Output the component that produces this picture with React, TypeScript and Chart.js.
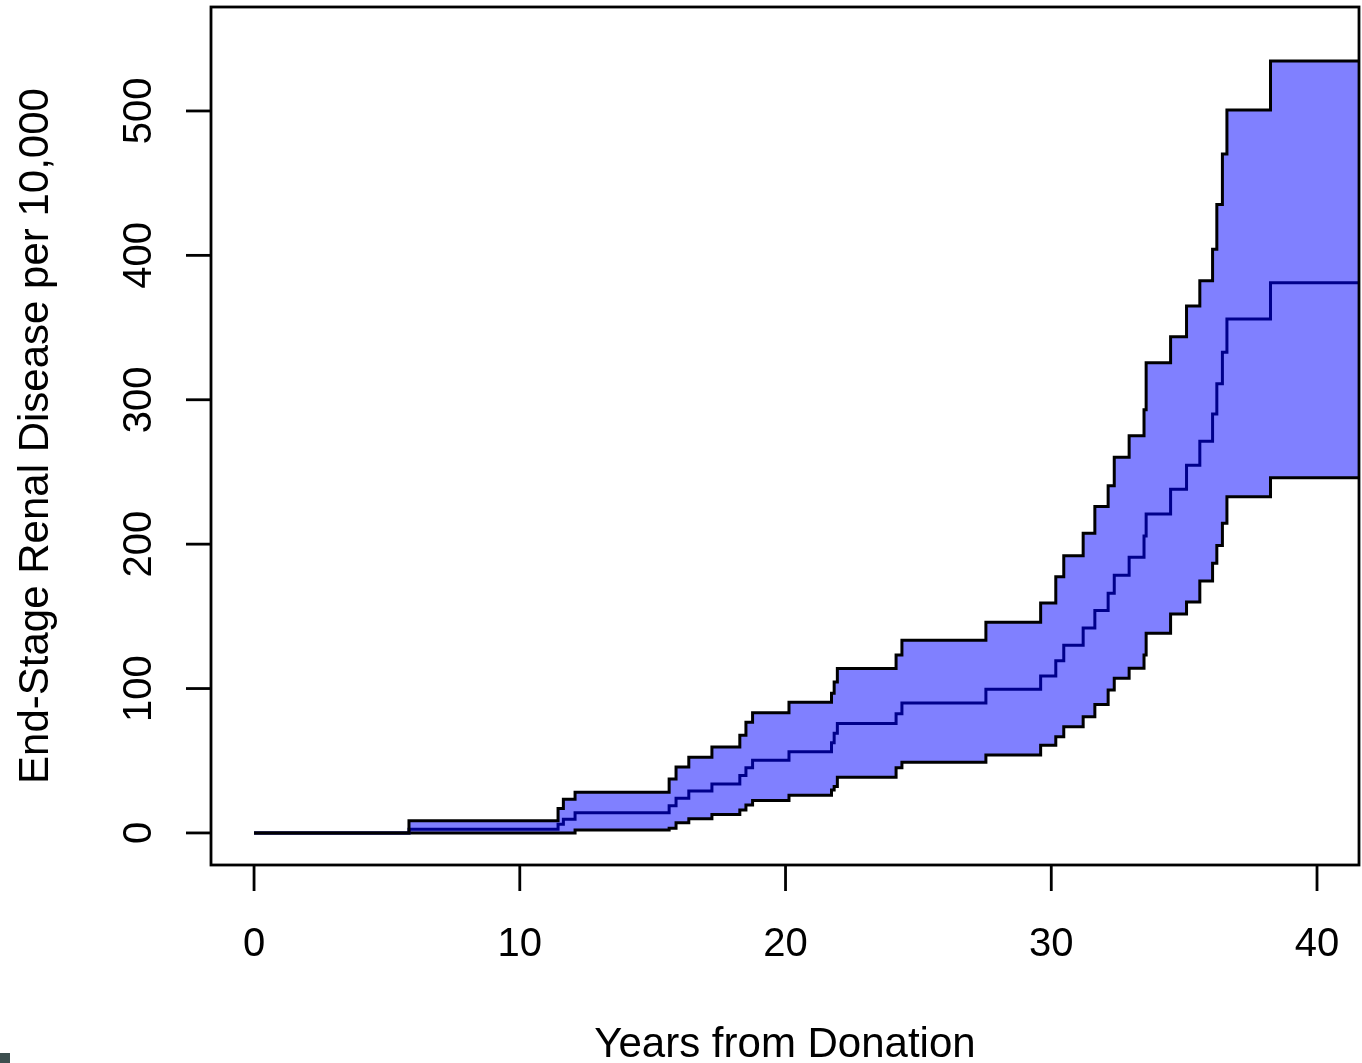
import { useEffect, useRef } from "react";
import { Chart, registerables } from "chart.js";

Chart.register(...registerables);

// Step-change times (years from donation)
const years = [0, 5.83, 11.44, 11.64, 12.08, 15.62, 15.88, 16.36, 17.23, 18.28, 18.51, 18.76, 20.13, 21.73, 21.83, 21.95, 24.16, 24.38, 27.54, 29.6, 30.17, 30.47, 31.2, 31.64, 32.14, 32.37, 32.93, 33.49, 33.57, 34.49, 35.09, 35.59, 36.07, 36.23, 36.44, 36.61, 38.25, 41.58];

// Upper confidence bound
const upperCI = [0, 8.5, 17, 23.3, 28.2, 37.4, 45.6, 52.4, 59.6, 67.6, 76.7, 83.3, 90.5, 96.7, 104.5, 113.8, 123.3, 133.4, 146, 159.3, 177.5, 192, 207.5, 226, 240.5, 260.2, 275, 293, 325.7, 343.7, 365, 382.5, 404.2, 435.3, 470.2, 500.7, 534.6, 534.6];

// Point estimate
const estimate = [0, 2.6, 6, 9.5, 14, 18.9, 24, 29, 33.9, 39.7, 45.2, 50.3, 56.3, 62.5, 69, 75.8, 82.6, 90, 99.5, 108.7, 119.3, 130, 142, 154, 166, 178.4, 190.9, 205.7, 220.9, 238, 254.6, 271.2, 290.2, 311, 332.9, 355.9, 381.1, 381.1];

// Lower confidence bound
const lowerCI = [0, 0, 0, 0, 2.1, 3.2, 7, 9.8, 12.7, 15.9, 19.4, 22.4, 26.1, 29.8, 32.1, 38.5, 45.2, 49, 54, 60.7, 66.7, 73.6, 80.5, 89, 99, 107.1, 114, 123.3, 138.3, 151.7, 160, 174.5, 186.8, 199, 214.5, 232.9, 246, 246];

const xTicks = [0, 10, 20, 30, 40];
const yTicks = [0, 100, 200, 300, 400, 500];
const xTitle = "Years from Donation";
const yTitle = "End-Stage Renal Disease per 10,000";

const FONT = '"Liberation Sans", Arial, Helvetica, sans-serif';

const toPoints = (ys: number[]) => years.map((x, i) => ({ x, y: ys[i] }));

const rAxesPlugin = {
  id: "rAxes",
  afterDraw(chart: any) {
    const ctx = chart.ctx as CanvasRenderingContext2D;
    const a = chart.chartArea;
    const xs = chart.scales.x;
    const ys = chart.scales.y;
    ctx.save();
    ctx.strokeStyle = "#000";
    ctx.fillStyle = "#000";
    ctx.lineWidth = 2.8;
    ctx.lineCap = "butt";
    // box
    ctx.strokeRect(a.left, a.top, a.right - a.left, a.bottom - a.top);
    // x ticks
    ctx.font = `40px ${FONT}`;
    ctx.textAlign = "center";
    ctx.textBaseline = "alphabetic";
    for (const t of xTicks) {
      const px = xs.getPixelForValue(t);
      ctx.beginPath();
      ctx.moveTo(px, a.bottom);
      ctx.lineTo(px, a.bottom + 26);
      ctx.stroke();
      ctx.fillText(String(t), px, a.bottom + 91);
    }
    // y ticks
    for (const t of yTicks) {
      const py = ys.getPixelForValue(t);
      ctx.beginPath();
      ctx.moveTo(a.left, py);
      ctx.lineTo(a.left - 25, py);
      ctx.stroke();
      ctx.save();
      ctx.translate(a.left - 60, py);
      ctx.rotate(-Math.PI / 2);
      ctx.fillText(String(t), 0, 0);
      ctx.restore();
    }
    // titles
    ctx.font = `42px ${FONT}`;
    ctx.fillText(xTitle, (a.left + a.right) / 2, 1057);
    ctx.save();
    ctx.translate(48, (a.top + a.bottom) / 2);
    ctx.rotate(-Math.PI / 2);
    ctx.fillText(yTitle, 0, 0);
    ctx.restore();
    // small corner mark
    ctx.fillStyle = "#3d4f4f";
    ctx.fillRect(0, 1053, 10, 10);
    ctx.restore();
  },
};

export default function App() {
  const ref = useRef<HTMLCanvasElement | null>(null);
  useEffect(() => {
    if (!ref.current) return;
    const chart = new Chart(ref.current, {
      type: "line",
      data: {
        datasets: [
          {
            data: toPoints(upperCI),
            borderColor: "#000000",
            borderWidth: 3,
            backgroundColor: "rgb(128,128,255)",
            fill: 2,
            stepped: true,
            pointRadius: 0,
          },
          {
            data: toPoints(estimate),
            borderColor: "#00008B",
            borderWidth: 3,
            fill: false,
            stepped: true,
            pointRadius: 0,
          },
          {
            data: toPoints(lowerCI),
            borderColor: "#000000",
            borderWidth: 3,
            fill: false,
            stepped: true,
            pointRadius: 0,
          },
        ],
      },
      options: {
        responsive: false,
        animation: false,
        devicePixelRatio: 1,
        layout: { padding: { left: 211, top: 7, right: 3, bottom: 198 } },
        scales: {
          x: { type: "linear", min: -1.62, max: 41.58, display: false },
          y: { type: "linear", min: -22.2, max: 572, display: false },
        },
        plugins: {
          legend: { display: false },
          tooltip: { enabled: false },
          filler: { drawTime: "beforeDatasetsDraw" },
        } as any,
      },
      plugins: [rAxesPlugin],
    });
    return () => chart.destroy();
  }, []);
  return (
    <canvas
      ref={ref}
      width={1362}
      height={1063}
      style={{ position: "fixed", left: 0, top: 0, width: 1362, height: 1063, background: "#fff" }}
    />
  );
}
